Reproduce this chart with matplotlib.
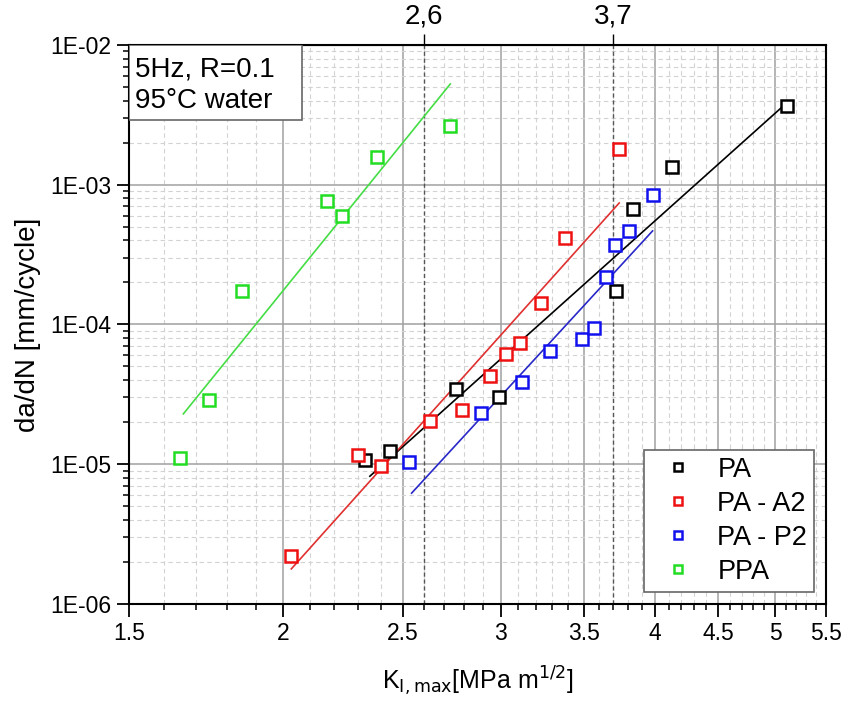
import matplotlib
matplotlib.use("Agg")
import matplotlib.pyplot as plt
from matplotlib.patches import Rectangle
import numpy as np

plt.rcParams['font.family'] = ['Liberation Sans', 'DejaVu Sans']

# measured points, K_I,max [MPa m^1/2] vs da/dN [mm/cycle]
pa_k = [2.33, 2.44, 2.76, 2.99, 3.72, 3.84, 4.13, 5.11]
pa_v = [1.07e-5, 1.24e-5, 3.45e-5, 3.03e-5, 1.74e-4, 6.7e-4, 1.34e-3, 3.66e-3]

a2_k = [2.03, 2.30, 2.40, 2.63, 2.79, 2.94, 3.03, 3.11, 3.23, 3.38, 3.74]
a2_v = [2.2e-6, 1.16e-5, 9.7e-6, 2.04e-5, 2.44e-5, 4.28e-5, 6.15e-5, 7.37e-5,
        1.43e-4, 4.16e-4, 1.80e-3]

p2_k = [2.53, 2.89, 3.12, 3.29, 3.49, 3.57, 3.65, 3.71, 3.81, 3.98]
p2_v = [1.04e-5, 2.33e-5, 3.88e-5, 6.46e-5, 7.87e-5, 9.44e-5, 2.19e-4,
        3.7e-4, 4.67e-4, 8.44e-4]

ppa_k = [1.65, 1.74, 1.85, 2.17, 2.23, 2.38, 2.73]
ppa_v = [1.11e-5, 2.88e-5, 1.74e-4, 7.65e-4, 5.98e-4, 1.58e-3, 2.63e-3]

# Paris-law fit lines (end points)
pa_fit_k = [2.35, 5.11]
pa_fit_v = [8.2e-6, 3.85e-3]
a2_fit_k = [2.03, 3.74]
a2_fit_v = [1.78e-6, 7.4e-4]
p2_fit_k = [2.54, 3.98]
p2_fit_v = [6.2e-6, 4.67e-4]
ppa_fit_k = [1.66, 2.73]
ppa_fit_v = [2.29e-5, 5.26e-3]

xticks = [1.5, 2, 2.5, 3, 3.5, 4, 4.5, 5, 5.5]
xticklabels = ["1.5", "2", "2.5", "3", "3.5", "4", "4.5", "5", "5.5"]
yticks = [1e-6, 1e-5, 1e-4, 1e-3, 1e-2]
yticklabels = ["1E-06", "1E-05", "1E-04", "1E-03", "1E-02"]
marks = [2.6, 3.7]
mark_labels = ["2,6", "3,7"]
info = ["5Hz, R=0.1", "95°C water"]

fig = plt.figure(figsize=(8.43, 7.03), dpi=100)
ax = fig.add_axes([0.153, 0.141, 0.827, 0.795])
ax.set_xscale("log")
ax.set_yscale("log")
ax.set_xlim(1.5, 5.5)
ax.set_ylim(1e-6, 1e-2)

# ticks + grid
minor_x = [round(v, 1) for v in np.arange(1.6, 5.45, 0.1) if round(v, 1) not in xticks]
ax.set_xticks(xticks)
ax.set_xticklabels(xticklabels)
ax.set_xticks(minor_x, minor=True)
ax.set_xticklabels([], minor=True)
ax.set_yticks(yticks)
ax.set_yticklabels(yticklabels)
ax.grid(True, which="major", color="#a0a0a0", lw=1.1, ls="-")
ax.grid(True, which="minor", color="#d2d2d2", lw=0.8, ls=(0, (4, 3)))
ax.set_axisbelow(True)

for m in marks:
    ax.axvline(m, color="#555555", lw=1.0, ls=(0, (3, 2)), zorder=1)

ax.tick_params(which="major", direction="out", length=9, width=1.3,
               labelsize=16.5, pad=4, top=False, right=False)
ax.tick_params(which="minor", direction="out", length=4.5, width=1.1,
               top=False, right=False)
for s in ax.spines.values():
    s.set_linewidth(1.5)

ms = 8.5
mew = 1.8
ax.plot(pa_fit_k, pa_fit_v, color="black", lw=1.2)
ax.plot(a2_fit_k, a2_fit_v, color="#e03030", lw=1.2)
ax.plot(p2_fit_k, p2_fit_v, color="#2828c8", lw=1.2)
ax.plot(ppa_fit_k, ppa_fit_v, color="#44dd44", lw=1.2)

ax.plot(pa_k, pa_v, "s", mfc="white", mec="black", ms=ms, mew=mew, label="PA")
ax.plot(a2_k, a2_v, "s", mfc="white", mec="#ee1111", ms=ms, mew=mew, label="PA - A2")
ax.plot(p2_k, p2_v, "s", mfc="white", mec="#1111ee", ms=ms, mew=mew, label="PA - P2")
ax.plot(ppa_k, ppa_v, "s", mfc="white", mec="#22dd22", ms=ms, mew=mew, label="PPA")

leg = ax.legend(loc="lower right", fontsize=19.5, frameon=True, fancybox=False,
                edgecolor="#666666", framealpha=1, handlelength=2.0,
                handletextpad=0.45, borderaxespad=0.45, labelspacing=0.3,
                borderpad=0.25, markerscale=0.72)
leg.get_frame().set_linewidth(1.2)

# info box in the upper-left corner
ax.add_patch(Rectangle((0, 0.866), 0.248, 0.134, transform=ax.transAxes,
                       fc="white", ec="#666666", lw=1.2, zorder=5))
ax.text(0.009, 0.9445, info[0], transform=ax.transAxes, ha="left",
        va="baseline", fontsize=20, zorder=6)
ax.text(0.009, 0.887, info[1], transform=ax.transAxes, ha="left",
        va="baseline", fontsize=20, zorder=6)

ax.set_ylabel("da/dN [mm/cycle]", fontsize=20, labelpad=6)
ax.set_xlabel(r"K$_{\mathrm{I,max}}$[MPa m$^{1/2}$]", fontsize=18, labelpad=14)

top = ax.secondary_xaxis("top")
top.set_xticks(marks)
top.set_xticklabels(mark_labels, fontsize=20)
top.set_xticks([], minor=True)
top.tick_params(direction="out", length=8, width=1.0, pad=3)

fig.savefig("out.png", dpi=100)
